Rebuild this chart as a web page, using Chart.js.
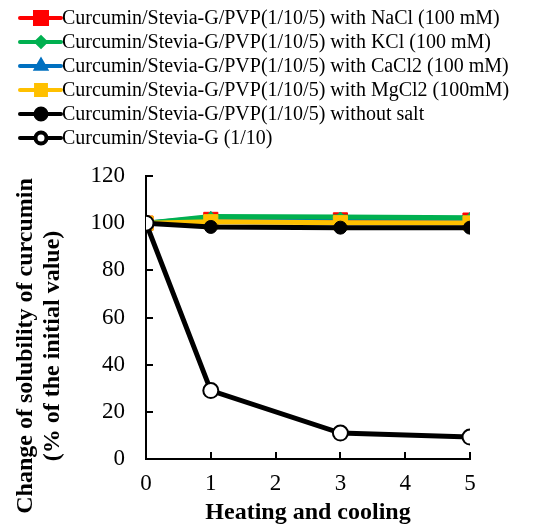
<!DOCTYPE html>
<html>
<head>
<meta charset="utf-8">
<script src="https://cdn.jsdelivr.net/npm/chart.js@4.4.1/dist/chart.umd.min.js"></script>
<style>
  html, body { margin: 0; padding: 0; background: #fff; }
  #wrap { width: 551px; height: 526px; position: relative; }
</style>
</head>
<body>
<div id="wrap"><canvas id="chart"></canvas></div>
<script>
// ── Data ─────────────────────────────────────────────────

const cycles = [0, 1, 3, 5];

const seriesNames = [
  "Curcumin/Stevia-G/PVP(1/10/5) with NaCl (100 mM)",
  "Curcumin/Stevia-G/PVP(1/10/5) with KCl (100 mM)",
  "Curcumin/Stevia-G/PVP(1/10/5) with CaCl2 (100 mM)",
  "Curcumin/Stevia-G/PVP(1/10/5) with MgCl2 (100mM)",
  "Curcumin/Stevia-G/PVP(1/10/5) without salt",
  "Curcumin/Stevia-G (1/10)"
];

const nacl    = [100, 101.6, 101.4, 101.3];
const kcl     = [100, 102.8, 102.6, 102.3];
const cacl2   = [100, 102.4, 102.2, 102.0];
const mgcl2   = [100, 100.6, 100.2, 100.1];
const noSalt  = [100, 98.4, 98.1, 98.1];
const steviaG = [100, 29, 11, 9.3];

const yTicks = [0, 20, 40, 60, 80, 100, 120];
const xTicks = [0, 1, 2, 3, 4, 5];

const yTitle = ["Change of solubility of curcumin", "(% of the initial value)"];
const xTitle = "Heating and cooling";

// ── Chart setup ──────────────────────────────────────────

const serif = "'Liberation Serif', 'Times New Roman', serif";

function pts(values) {
  return values.map((v, i) => ({ x: cycles[i], y: v }));
}

// colour, point style, plot radius, legend radius, fill, order
const looks = [
  { color: "#ff0000", style: "rect",     r: 10,  lr: 8.5, fill: "#ff0000", order: 5 },
  { color: "#00b050", style: "rectRot",  r: 5,   lr: 4.5, fill: "#00b050", order: 3 },
  { color: "#0070c0", style: "triangle", r: 6,   lr: 5.5, fill: "#0070c0", order: 4 },
  { color: "#ffc000", style: "rect",     r: 10,  lr: 7,   fill: "#ffc000", order: 2 },
  { color: "#000000", style: "circle",   r: 6.5, lr: 5.5, fill: "#000000", order: 1 },
  { color: "#000000", style: "circle",   r: 7.5, lr: 5.5, fill: "#ffffff", order: 0 }
];

const allValues = [nacl, kcl, cacl2, mgcl2, noSalt, steviaG];

const datasets = allValues.map((vals, i) => ({
  label: seriesNames[i],
  data: pts(vals),
  borderColor: looks[i].color,
  backgroundColor: looks[i].fill,
  borderWidth: 5,
  pointStyle: looks[i].style,
  pointRadius: looks[i].r,
  pointHoverRadius: looks[i].r,
  pointBackgroundColor: looks[i].fill,
  pointBorderColor: looks[i].color,
  pointBorderWidth: i === 5 ? 2 : 1,
  order: looks[i].order,
  tension: 0,
  fill: false
}));

// legend: line sample with marker, one entry per row
const legendBox = {
  id: "legendBox",
  afterDraw(chart) {
    const ctx = chart.ctx;
    ctx.save();
    chart.data.datasets.forEach((ds, i) => {
      const y = 18 + i * 24;
      ctx.strokeStyle = ds.borderColor;
      ctx.lineWidth = 4;
      ctx.lineCap = "round";
      ctx.beginPath();
      ctx.moveTo(20, y);
      ctx.lineTo(61, y);
      ctx.stroke();
      ctx.lineCap = "butt";
      ctx.fillStyle = ds.pointBackgroundColor;
      ctx.strokeStyle = ds.pointBorderColor;
      Chart.helpers.drawPoint(ctx, {
        pointStyle: ds.pointStyle,
        radius: looks[i].lr,
        borderWidth: ds.pointBorderWidth,
        rotation: 0
      }, 41, y);
      ctx.fillStyle = "#000";
      ctx.font = "20px " + serif;
      ctx.textBaseline = "middle";
      ctx.textAlign = "left";
      ctx.fillText(ds.label, 62, y + 1);
    });
    ctx.restore();
  }
};

// y axis title, placed like the original (a bit below the plot centre)
const yTitleBox = {
  id: "yTitleBox",
  afterDraw(chart) {
    const ctx = chart.ctx;
    ctx.save();
    ctx.translate(26, 346);
    ctx.rotate(-Math.PI / 2);
    ctx.fillStyle = "#000";
    ctx.font = "bold 24px " + serif;
    ctx.textAlign = "center";
    ctx.textBaseline = "middle";
    ctx.fillText(yTitle[0], 0, 0);
    ctx.fillText(yTitle[1], 0, 27);
    ctx.restore();
  }
};

new Chart(document.getElementById("chart"), {
  type: "line",
  data: { datasets },
  options: {
    responsive: true,
    maintainAspectRatio: false,
    animation: false,
    layout: { padding: { top: 176, right: 81, left: 0, bottom: 0 } },
    plugins: {
      legend: { display: false },
      tooltip: { enabled: false }
    },
    scales: {
      x: {
        type: "linear",
        min: xTicks[0],
        max: xTicks[xTicks.length - 1],
        afterFit: (s) => { s.height = 67; },
        afterBuildTicks: (s) => { s.ticks = xTicks.map(v => ({ value: v })); },
        ticks: {
          color: "#000",
          font: { family: serif, size: 23 },
          padding: 18,
          maxRotation: 0
        },
        grid: { drawOnChartArea: false, tickLength: -7, color: "#000", lineWidth: 2 },
        border: { color: "#000", width: 2 },
        title: {
          display: true,
          text: xTitle,
          color: "#000",
          font: { family: serif, size: 24, weight: "bold" },
          padding: { top: 0, bottom: -1 }
        }
      },
      y: {
        min: yTicks[0],
        max: yTicks[yTicks.length - 1],
        afterFit: (s) => { s.width = 146; },
        afterBuildTicks: (s) => { s.ticks = yTicks.map(v => ({ value: v })); },
        ticks: {
          color: "#000",
          font: { family: serif, size: 23 },
          padding: 28
        },
        grid: { drawOnChartArea: false, tickLength: -7, color: "#000", lineWidth: 2 },
        border: { color: "#000", width: 2 }
      }
    }
  },
  plugins: [legendBox, yTitleBox]
});
</script>
</body>
</html>
